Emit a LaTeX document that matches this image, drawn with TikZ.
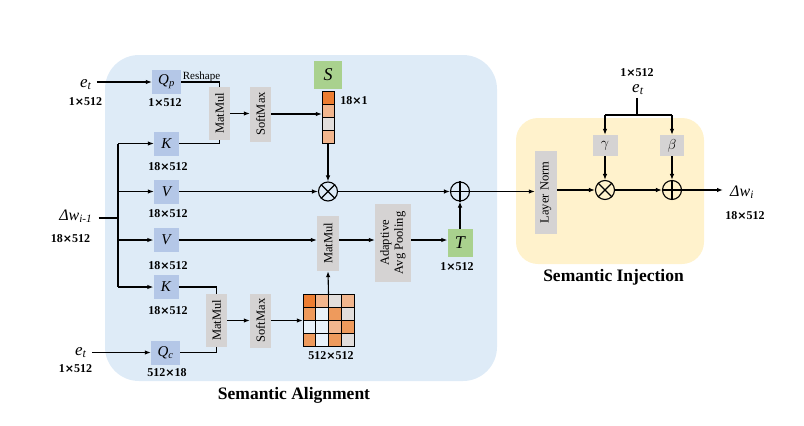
\documentclass[tikz,border=0pt]{standalone}
\usepackage{fontspec}
\setmainfont{Liberation Serif}
\newfontfamily\dejavufam{DejaVu Sans}
\newcommand\mytimes{{\dejavufam\bfseries\fontsize{11}{11}\selectfont ×}}
\usepackage{graphicx}
\usetikzlibrary{arrows.meta}
\definecolor{bgblue}{HTML}{DEEBF7}
\definecolor{bgyellow}{HTML}{FFF2CC}
\definecolor{qkv}{HTML}{B4C7E7}
\definecolor{opgray}{HTML}{D5D3D3}
\definecolor{sgreen}{HTML}{A9D18E}
\definecolor{odark}{HTML}{ED7D31}
\definecolor{omid}{HTML}{EE9A5C}
\definecolor{olight}{HTML}{F2B68E}
\definecolor{cgray}{HTML}{E2DEDC}
\definecolor{cwhite}{HTML}{E9F2FA}
\tikzset{
  arr/.style={-{Latex[length=6pt,width=4.5pt]}, line width=1.1pt},
  ln/.style={line width=1.1pt},
  qbox/.style={fill=qkv, minimum width=25pt, minimum height=24pt, inner sep=0pt, font=\fontsize{15}{15}\selectfont\itshape},
  opbox/.style={fill=opgray, inner sep=0pt, font=\fontsize{12.5}{14}\selectfont},
  gbox/.style={fill=sgreen, inner sep=0pt, font=\fontsize{18}{18}\selectfont\itshape},
  dim/.style={inner sep=0pt, font=\fontsize{12}{12}\selectfont\bfseries},
  lbl/.style={inner sep=0pt, font=\fontsize{17}{17}\selectfont\itshape},
  ttl/.style={inner sep=0pt, font=\fontsize{17.5}{18}\selectfont\bfseries},
  opc/.style={circle, draw, line width=1.1pt, minimum size=19pt, inner sep=0pt},
  cell/.style={draw, line width=1pt}
}
\begin{document}
\begin{tikzpicture}[x=1pt,y=-1pt]
\useasboundingbox (0,0) rectangle (804,426);
% backgrounds
\fill[bgblue, rounded corners=34pt] (105,55) rectangle (497,381);
\fill[bgyellow, rounded corners=22pt] (516,118) rectangle (704,264);

% Q K V boxes
\node[qbox, minimum width=29pt] (qp) at (166.5,82) {Q\textsubscript{p}};
\node[qbox] (k1) at (166.5,143.5) {K};
\node[qbox] (v1) at (166.5,191.5) {V};
\node[qbox] (v2) at (166,240) {V};
\node[qbox] (k2) at (166,287) {K};
\node[qbox, minimum width=29pt] (qc) at (165.5,352.5) {Q\textsubscript{c}};

% operation boxes
\node[opbox, minimum width=21pt, minimum height=53pt] (mm1) at (219.5,113.5) {\rotatebox{90}{MatMul}};
\node[opbox, minimum width=21pt, minimum height=55pt] (sm1) at (260.5,114) {\rotatebox{90}{SoftMax}};
\node[opbox, minimum width=21pt, minimum height=53pt] (mm2) at (216.5,320.5) {\rotatebox{90}{MatMul}};
\node[opbox, minimum width=21pt, minimum height=54pt] (sm2) at (260.5,320.5) {\rotatebox{90}{SoftMax}};
\node[opbox, minimum width=22pt, minimum height=55pt] (mm3) at (328,243.5) {\rotatebox{90}{MatMul}};
\node[opbox, minimum width=36pt, minimum height=78pt] (pool) at (393,243) {\rotatebox{90}{\begin{tabular}{@{}c@{}}Adaptive\\[0pt]Avg Pooling\end{tabular}}};
\node[opbox, minimum width=22pt, minimum height=83pt] (lnorm) at (546,192.5) {\rotatebox{90}{Layer Norm}};
\node[opbox, minimum width=25pt, minimum height=21pt, font=\fontsize{15}{15}\selectfont] (gam) at (605,145.5) {$\gamma$};
\node[opbox, minimum width=24pt, minimum height=21pt, font=\fontsize{15}{15}\selectfont] (bet) at (672,145.5) {$\beta$};

% green boxes
\node[gbox, minimum width=28pt, minimum height=28pt] (S) at (328,75) {S};
\node[gbox, minimum width=25pt, minimum height=28pt] (T) at (460,243) {T};

% S vector
\node[minimum width=12pt, minimum height=52pt, inner sep=0pt] (svec) at (328,117) {};
\foreach \c [count=\i from 0] in {odark,olight,cgray,olight}
  \filldraw[cell, fill=\c] (322,91+13*\i) rectangle (334,104+13*\i);

% attention matrix
\node[minimum width=51pt, minimum height=52pt, inner sep=0pt] (mat) at (328.5,320) {};
\foreach \row [count=\r from 0] in {{odark,olight,cgray,olight},{omid,cwhite,omid,cgray},{cwhite,cwhite,olight,omid},{omid,cwhite,omid,cgray}}
  \foreach \c [count=\k from 0] in \row
    \filldraw[cell, fill=\c] (303+12.75*\k,294+13*\r) rectangle (315.75+12.75*\k,307+13*\r);

% operator circles
\node[opc] (m1) at (328,191.5) {};
\node[opc] (p1) at (460,191.5) {};
\node[opc] (m2) at (605,190) {};
\node[opc] (p2) at (672,190) {};
\foreach \n in {m1,m2} \draw[line width=1.1pt] (\n.45) -- (\n.225) (\n.135) -- (\n.315);
\foreach \n in {p1,p2} \draw[line width=1.1pt] (\n.north) -- (\n.south) (\n.east) -- (\n.west);

% input / output labels
\node[lbl, anchor=base west] (et1) at (80,87) {e\textsubscript{t}};
\node[lbl, anchor=base west] (et2) at (75,355) {e\textsubscript{t}};
\node[lbl, anchor=base west] (et3) at (632,92) {e\textsubscript{t}};
\node[lbl, anchor=base east, font=\fontsize{16}{16}\selectfont\itshape] (dw1) at (92.5,220) {Δw\textsubscript{i-1}};
\node[lbl, anchor=base west, font=\fontsize{16}{16}\selectfont\itshape] (dw2) at (730,196) {Δw\textsubscript{i}};

% dimension labels
\node[dim] (d1) at (85.5,101.5) {1\mytimes512};
\node[dim] (d2) at (165,103) {1\mytimes512};
\node[dim] (d3) at (168,167) {18\mytimes512};
\node[dim] (d4) at (168,213.5) {18\mytimes512};
\node[dim] (d5) at (70.5,239) {18\mytimes512};
\node[dim] (d6) at (168,266) {18\mytimes512};
\node[dim] (d7) at (168,311) {18\mytimes512};
\node[dim] (d8) at (167,372.5) {512\mytimes18};
\node[dim] (d9) at (75.5,369) {1\mytimes512};
\node[dim] (d10) at (331,356) {512\mytimes512};
\node[dim] (d11) at (457,266.5) {1\mytimes512};
\node[dim] (d12) at (354,101) {18\mytimes1};
\node[dim] (d13) at (637,72.5) {1\mytimes512};
\node[dim] (d14) at (745,215.5) {18\mytimes512};

\node[inner sep=0pt, anchor=base, font=\fontsize{11}{11}\selectfont] (rs) at (201.5,79.5) {Reshape};

% titles
\node[ttl, anchor=base] (ta) at (294,399) {Semantic Alignment};
\node[ttl, anchor=base] (ti) at (613.5,281) {Semantic Injection};

% helper coordinates
\coordinate (tr) at (118,218);
\coordinate (j) at (637,115);
\coordinate (ae) at ([xshift=-7pt]dw2.west);
\coordinate (as1) at ([xshift=5pt]et1.east);
\coordinate (as2) at ([xshift=5pt]et2.east);
\coordinate (as3) at ([xshift=6pt]dw1.east);
\coordinate (as4) at ([yshift=-3pt]et3.south);

% connectors: top branch
\draw[arr] (as1 |- qp.west) -- (qp.west);
\draw[ln] (qp.east) -| (mm1.north);
\draw[ln] (k1.east) -| (mm1.south);
\draw[arr] (mm1.east) -- (mm1.east -| sm1.west);
\draw[arr] (sm1.east) -- (sm1.east -| svec.west);
\draw[arr] (svec.south) -- (m1.north);

% trunk from delta w
\draw[ln] (as3 |- tr) -- (tr);
\draw[ln] (tr |- k1) -- (tr |- k2);
\draw[arr] (tr |- k1) -- (k1.west);
\draw[arr] (tr |- v1) -- (v1.west);
\draw[arr] (tr |- v2) -- (v2.west);
\draw[arr] (tr |- k2) -- (k2.west);

% middle
\draw[arr] (v1.east) -- (m1.west);
\draw[arr] (m1.east) -- (p1.west);
\draw[arr] (v2.east) -- (v2.east -| mm3.west);
\draw[arr] (mm3.east |- v2) -- (pool.west |- v2);
\draw[arr] (pool.east |- v2) -- (T.west |- v2);
\draw[arr] (T.north) -- (p1.south);

% bottom branch
\draw[arr] (as2 |- qc.west) -- (qc.west);
\draw[ln] (k2.east) -| (mm2.north);
\draw[ln] (qc.east) -| (mm2.south);
\draw[arr] (mm2.east) -- (mm2.east -| sm2.west);
\draw[arr] (sm2.east) -- (sm2.east -| mat.west);
\draw[arr] (mat.north) -- (mm3.south);

% injection
\draw[arr] (p1.east) -- (p1.east -| lnorm.west);
\draw[arr] (lnorm.east |- m2) -- (m2.west);
\draw[arr] (m2.east) -- (p2.west);
\draw[arr] (p2.east) -- (p2.east -| ae);
\draw[ln] (as4 -| j) -- (j);
\draw[ln] (gam.north |- j) -- (bet.north |- j);
\draw[arr] (gam.north |- j) -- (gam.north);
\draw[arr] (bet.north |- j) -- (bet.north);
\draw[arr] (gam.south) -- (m2.north);
\draw[arr] (bet.south) -- (p2.north);
\end{tikzpicture}
\end{document}
